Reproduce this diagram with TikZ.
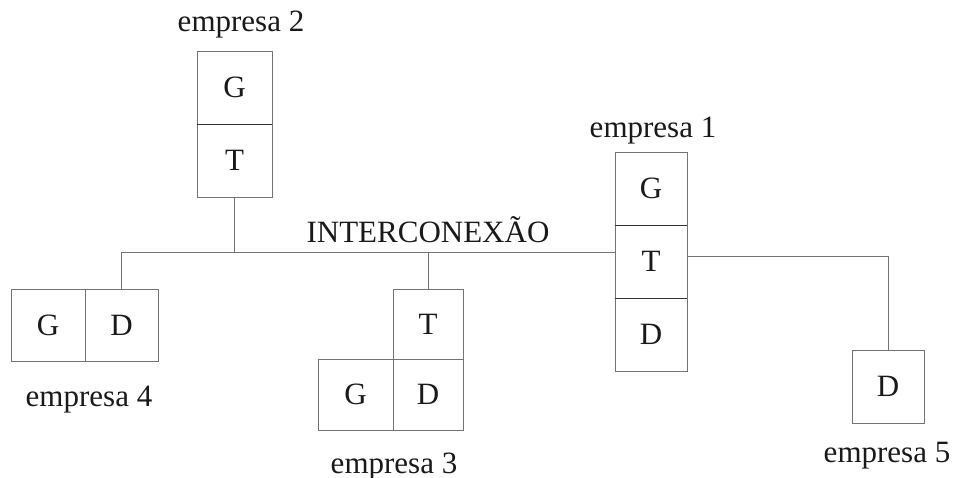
\documentclass[tikz,border=0pt]{standalone}
\usepackage{fontspec}
\setmainfont{Liberation Serif}
\begin{document}
\begin{tikzpicture}[x=1pt,y=-1pt,
  cell/.style={draw=black!55, line width=0.8pt, inner sep=0pt, minimum width=#1, font=\fontsize{31}{36}\selectfont, text=black!90},
  cell/.default=73pt,
  lbl/.style={anchor=base, inner sep=0pt, font=\fontsize{31}{36}\selectfont, text=black!90},
  wire/.style={draw=black!55, line width=0.8pt},
  divider/.style={draw=black!80, line width=1.3pt}]
\useasboundingbox (0,0) rectangle (954,478);
\coordinate (m) at (0,252);
% empresa 2
\node[cell=75pt, minimum height=73pt] (e2G) at (234.5,87.5) {G};
\node[cell=75pt, minimum height=73pt] (e2T) at (234.5,160.5) {T};
\draw[divider] (e2G.south west) -- (e2G.south east);
\node[lbl] (l2) at (241,32) {empresa 2};
% empresa 4
\node[cell=74pt, minimum height=72pt] (e4G) at (48,325) {G};
\node[cell=73pt, minimum height=72pt] (e4D) at (121.5,325) {D};
\node[lbl] (l4) at (89,407) {empresa 4};
% empresa 3
\node[cell=70pt, minimum height=70pt] (e3T) at (428,324) {T};
\node[cell=75pt, minimum height=71pt] (e3G) at (355.5,394.5) {G};
\node[cell=70pt, minimum height=71pt] (e3D) at (428,394.5) {D};
\node[lbl] (l3) at (394,473) {empresa 3};
% empresa 1
\node[cell=72pt, minimum height=73pt] (e1G) at (651,188.5) {G};
\node[cell=72pt, minimum height=73pt] (e1T) at (651,261.5) {T};
\node[cell=72pt, minimum height=73pt] (e1D) at (651,334.5) {D};
\draw[divider] (e1G.south west) -- (e1G.south east);
\draw[divider] (e1T.south west) -- (e1T.south east);
\node[lbl] (l1) at (653,138) {empresa 1};
% empresa 5
\node[cell=72pt, minimum height=73pt] (e5D) at (888,386.5) {D};
\node[lbl] (l5) at (887,463) {empresa 5};
% interconnection
\node[lbl] (ic) at (428,243) {INTERCONEXÃO};
\draw[wire] (e4D.north |- m) -- (e1T.west |- m);
\draw[wire] (e2T.south) -- (e2T.south |- m);
\draw[wire] (e4D.north) -- (e4D.north |- m);
\draw[wire] (e3T.north) -- (e3T.north |- m);
\draw[wire] ([yshift=5.5pt]e1T.east) -- ([yshift=5.5pt]e1T.east -| e5D.north) -- (e5D.north);
\end{tikzpicture}
\end{document}
